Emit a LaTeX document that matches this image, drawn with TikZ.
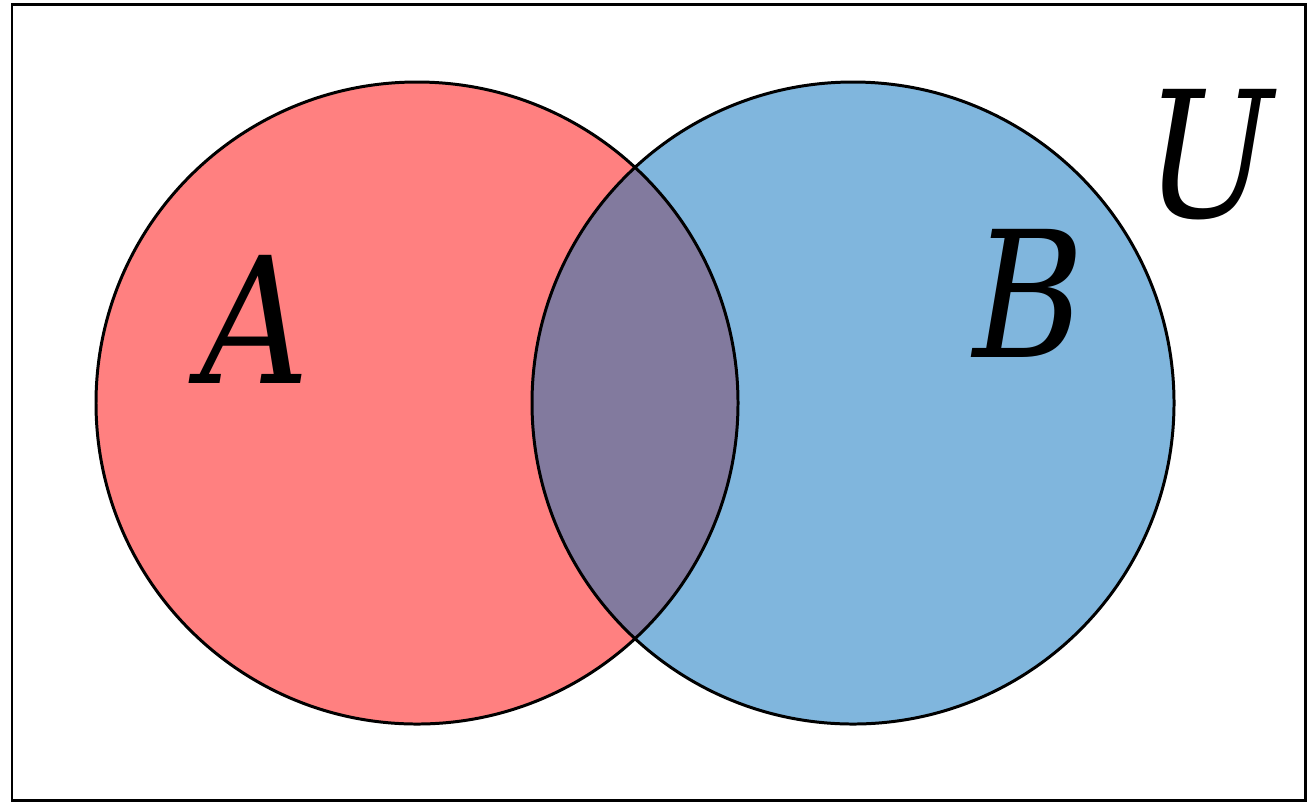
\documentclass[tikz,border=0pt]{standalone}
\usepackage{fontspec}
\newfontfamily\lblfont[FakeStretch=0.86]{DejaVu Serif}
\begin{document}
\begin{tikzpicture}[x=0.01cm,y=-0.01cm,
  outline/.style={draw=black,line width=0.85pt},
  setlabel/.style={font=\lblfont\itshape\fontsize{50}{50}\selectfont,inner sep=0pt,anchor=base}]
\useasboundingbox (0,0) rectangle (1316,802);
\draw[outline] (12,4) rectangle (1305,800);
\fill[fill={rgb,255:red,255;green,128;blue,128}] (417,403) circle (321);
\fill[fill={rgb,255:red,128;green,182;blue,221}] (853,403) circle (321);
\begin{scope}
  \clip (417,403) circle (321);
  \fill[fill={rgb,255:red,130;green,122;blue,158}] (853,403) circle (321);
\end{scope}
\draw[outline] (417,403) circle (321);
\draw[outline] (853,403) circle (321);
\node[setlabel] (la) at (255,383) {A};
\node[setlabel] (lb) at (1029,357) {B};
\node[setlabel] (lu) at (1209,217) {U};
\end{tikzpicture}
\end{document}
